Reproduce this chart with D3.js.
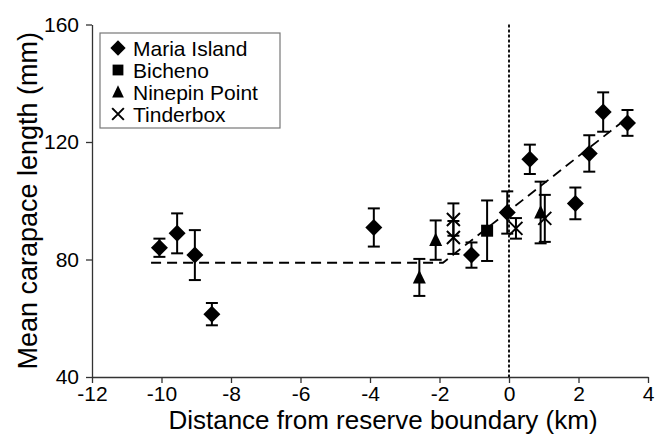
<!DOCTYPE html>
<html>
<head>
<meta charset="utf-8">
<script src="https://cdn.jsdelivr.net/npm/d3@7"></script>
<style>
  body { margin: 0; background: #fff; }
  text { font-family: "Liberation Sans", Arial, sans-serif; fill: #000; }
</style>
</head>
<body>
<div class="chart"></div>
<script>
// site of each sample, distance from boundary (km), mean length (mm), error (mm)
const sites = ["Maria Island", "Maria Island", "Maria Island", "Maria Island", "Maria Island",
               "Maria Island", "Maria Island", "Maria Island", "Maria Island", "Maria Island",
               "Maria Island", "Maria Island",
               "Bicheno",
               "Ninepin Point", "Ninepin Point", "Ninepin Point",
               "Tinderbox", "Tinderbox", "Tinderbox", "Tinderbox"];
const distance = [-10.06, -9.55, -9.04, -8.55, -3.89, -1.08, -0.05, 0.60, 1.91, 2.31, 2.71, 3.41,
                  -0.63,
                  -2.58, -2.11, 0.91,
                  -1.6, -1.6, 0.2, 1.03];
const meanLength = [84.0, 88.9, 81.5, 61.4, 90.9, 81.5, 96.0, 114.1, 99.1, 116.1, 130.2, 126.5,
                    89.8,
                    73.9, 86.6, 96.0,
                    93.6, 87.5, 90.6, 94.0];
const errLength = [3.1, 6.8, 8.5, 3.8, 6.5, 4.3, 7.2, 5.0, 5.4, 6.2, 6.7, 4.4,
                   10.3,
                   6.3, 6.7, 10.5,
                   5.5, 5.6, 3.5, 8.0];

const legendSites = ["Maria Island", "Bicheno", "Ninepin Point", "Tinderbox"];

// fitted piecewise line
const trendX = [-10.3, -1.9, 3.2];
const trendY = [78.9, 78.9, 126.3];

const xTicks = [-12, -10, -8, -6, -4, -2, 0, 2, 4];
const yTicks = [40, 80, 120, 160];

const data = sites.map((s, i) => ({site: s, x: distance[i], y: meanLength[i], e: errLength[i]}));

const W = 663, H = 441;
const margin = {top: 24.5, right: 15, bottom: 64, left: 92};

const svg = d3.select(".chart").append("svg")
    .attr("width", W)
    .attr("height", H);

const xScale = d3.scaleLinear().domain([-12, 4]).range([margin.left, W - margin.right]);
const yScale = d3.scaleLinear().domain([40, 160]).range([H - margin.bottom, margin.top]);

// axes
const xAxis = d3.axisBottom(xScale).tickValues(xTicks).tickFormat(d => String(d))
    .tickSize(6).tickSizeOuter(0).tickPadding(3);
const yAxis = d3.axisLeft(yScale).tickValues(yTicks).tickFormat(d => String(d))
    .tickSize(6).tickSizeOuter(0).tickPadding(7);

const gx = svg.append("g")
    .attr("transform", `translate(0,${yScale(40)})`)
    .call(xAxis);
const gy = svg.append("g")
    .attr("transform", `translate(${xScale(-12)},0)`)
    .call(yAxis);

[gx, gy].forEach(g => {
    g.select(".domain").attr("stroke", "#333").attr("stroke-width", 1.3);
    g.selectAll(".tick line").attr("stroke", "#333").attr("stroke-width", 1.3);
    g.selectAll(".tick text")
        .attr("font-size", 21)
        .attr("font-family", "Liberation Sans, Arial, sans-serif")
        .attr("fill", "#000");
});

// axis titles
svg.append("text")
    .attr("x", 383)
    .attr("y", 429)
    .attr("text-anchor", "middle")
    .attr("font-size", 26)
    .text("Distance from reserve boundary (km)");

svg.append("text")
    .attr("transform", `translate(37,${(yScale(40) + yScale(160)) / 2}) rotate(-90)`)
    .attr("text-anchor", "middle")
    .attr("font-size", 27)
    .text("Mean carapace length (mm)");

// reserve boundary
svg.append("line")
    .attr("x1", xScale(0)).attr("x2", xScale(0))
    .attr("y1", yScale(160)).attr("y2", yScale(40))
    .attr("stroke", "#000")
    .attr("stroke-width", 1.8)
    .attr("stroke-dasharray", "3,2");

// fitted line
const trend = d3.line().x(d => xScale(d[0])).y(d => yScale(d[1]));
svg.append("path")
    .datum(trendX.map((x, i) => [x, trendY[i]]))
    .attr("d", trend)
    .attr("fill", "none")
    .attr("stroke", "#000")
    .attr("stroke-width", 1.8)
    .attr("stroke-dasharray", "10,6");

// error bars
const cap = 6;
const eb = svg.append("g").attr("stroke", "#000").attr("stroke-width", 2);
data.forEach(d => {
    const cx = xScale(d.x);
    eb.append("line")
        .attr("x1", cx).attr("x2", cx)
        .attr("y1", yScale(d.y - d.e)).attr("y2", yScale(d.y + d.e));
    eb.append("line")
        .attr("x1", cx - cap).attr("x2", cx + cap)
        .attr("y1", yScale(d.y + d.e)).attr("y2", yScale(d.y + d.e));
    eb.append("line")
        .attr("x1", cx - cap).attr("x2", cx + cap)
        .attr("y1", yScale(d.y - d.e)).attr("y2", yScale(d.y - d.e));
});

// marker shapes
function drawMarker(g, site, cx, cy, k) {
    if (site == "Maria Island") {
        const r = 8.5 * k;
        g.append("path")
            .attr("d", `M${cx},${cy - r}L${cx + r},${cy}L${cx},${cy + r}L${cx - r},${cy}Z`)
            .attr("fill", "#000");
    } else if (site == "Bicheno") {
        const s = 6 * k;
        g.append("rect")
            .attr("x", cx - s).attr("y", cy - s)
            .attr("width", 2 * s).attr("height", 2 * s)
            .attr("fill", "#000");
    } else if (site == "Ninepin Point") {
        const w = 6.5 * k, h = 7.5 * k;
        g.append("path")
            .attr("d", `M${cx},${cy - h}L${cx + w},${cy + h * 0.8}L${cx - w},${cy + h * 0.8}Z`)
            .attr("fill", "#000");
    } else {
        const r = 6.5 * k;
        g.append("path")
            .attr("d", `M${cx - r},${cy - r}L${cx + r},${cy + r}M${cx - r},${cy + r}L${cx + r},${cy - r}`)
            .attr("stroke", "#000")
            .attr("stroke-width", 2)
            .attr("fill", "none");
    }
}

const marks = svg.append("g");
data.forEach(d => drawMarker(marks, d.site, xScale(d.x), yScale(d.y), 1));

// legend
const legend = svg.append("g");
legend.append("rect")
    .attr("x", 100).attr("y", 33)
    .attr("width", 180).attr("height", 95)
    .attr("fill", "#fff")
    .attr("stroke", "#777")
    .attr("stroke-width", 1.2);

legendSites.forEach((s, i) => {
    const cy = 48 + i * 22;
    drawMarker(legend, s, 118, cy, 0.9);
    legend.append("text")
        .attr("x", 133)
        .attr("y", cy)
        .attr("dy", "0.36em")
        .attr("font-size", 21)
        .text(s);
});
</script>
</body>
</html>
